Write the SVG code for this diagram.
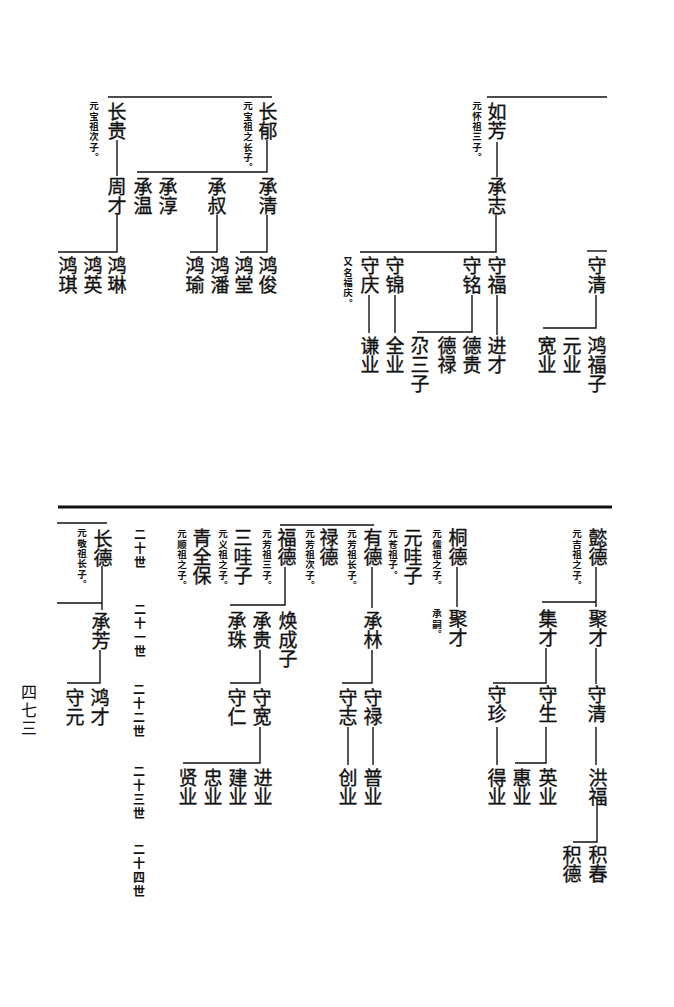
<svg xmlns="http://www.w3.org/2000/svg" width="674" height="1007" viewBox="0 0 674 1007">
<style>
text{font-family:"Noto Sans CJK SC","Noto Sans CJK TC",sans-serif;fill:#111;writing-mode:vertical-rl;text-anchor:start}
.n{font-size:19px;stroke:#111;stroke-width:0.35}
.a{font-size:9.5px;font-weight:bold;letter-spacing:0.8px}
.g{font-size:12px;letter-spacing:2px;font-weight:bold}
.p{font-size:16px;letter-spacing:2px}
.c line,.c path{stroke:#111;stroke-width:1.4;fill:none}
</style>
<rect width="674" height="1007" fill="#fff"/>
<g class="c" id="connectors">
<line x1="108" y1="97" x2="272" y2="97"/>
<path d="M267 140V172H137"/>
<path d="M117 140V176"/>
<path d="M267 215V252H240"/>
<path d="M217 215V252H190"/>
<path d="M117 215V252H58"/>
<line x1="487" y1="97" x2="607" y2="97" style="stroke-width:1.6"/>
<path d="M497 142V177"/>
<path d="M496 215V252H360"/>
<line x1="587" y1="251" x2="607" y2="251"/>
<path d="M369 295V333"/>
<path d="M395 295V333"/>
<path d="M472 295V332H417"/>
<path d="M497 295V335"/>
<path d="M596 295V328H543"/>
<line x1="58" y1="507" x2="612" y2="507" style="stroke-width:3"/>
<line x1="57" y1="523" x2="107" y2="523"/>
<path d="M102 566V610M102 603H57"/>
<path d="M100 650V683H67"/>
<line x1="280" y1="525" x2="374" y2="525"/>
<path d="M457 567V607"/>
<path d="M596 567V607M596 602H542"/>
<path d="M285 567V605H230"/>
<path d="M372 567V608"/>
<path d="M260 650V683H230"/>
<path d="M260 727V763H183"/>
<path d="M372 650V683H342"/>
<path d="M373 727V765"/>
<path d="M348 727V765"/>
<path d="M546 648V683H493"/>
<path d="M596 648V684"/>
<path d="M546 727V763H515"/>
<path d="M497 727V765"/>
<path d="M596 727V765"/>
<path d="M597 806V842H573"/>
</g>
<g id="top-left">
<g id="n-changyu"><text class="n" x="268" y="102">长郁</text><text class="a" x="248" y="101">元宝祖之长子。</text></g>
<g id="n-changgui"><text class="n" x="117" y="102">长贵</text><text class="a" x="94" y="101">元宝祖次子。</text></g>
<g id="n-chengqing"><text class="n" x="268" y="177">承清</text></g>
<g id="n-chengshu"><text class="n" x="217" y="177">承叔</text></g>
<g id="n-chengchun"><text class="n" x="168" y="177">承淳</text></g>
<g id="n-chengwen"><text class="n" x="143" y="177">承温</text></g>
<g id="n-zhoucai"><text class="n" x="117" y="177">周才</text></g>
<g id="n-hongjun"><text class="n" x="268" y="256">鸿俊</text></g>
<g id="n-hongtang"><text class="n" x="244" y="256">鸿堂</text></g>
<g id="n-hongpan"><text class="n" x="220" y="256">鸿潘</text></g>
<g id="n-hongyu"><text class="n" x="195" y="256">鸿瑜</text></g>
<g id="n-honglin"><text class="n" x="117" y="256">鸿琳</text></g>
<g id="n-hongying"><text class="n" x="93" y="256">鸿英</text></g>
<g id="n-hongqi"><text class="n" x="68" y="256">鸿琪</text></g>
</g>
<g id="top-right">
<g id="n-rufang"><text class="n" x="497" y="102">如芳</text><text class="a" x="477" y="101">元怀祖三子。</text></g>
<g id="n-chengzhi"><text class="n" x="497" y="177">承志</text></g>
<g id="n-shoufu"><text class="n" x="497" y="256">守福</text></g>
<g id="n-shouming"><text class="n" x="472" y="256">守铭</text></g>
<g id="n-shoujin"><text class="n" x="395" y="256">守锦</text></g>
<g id="n-shouqing1"><text class="n" x="370" y="256">守庆</text><text class="a" x="348" y="257">又名福庆。</text></g>
<g id="n-shouqing2"><text class="n" x="597" y="256">守清</text></g>
<g id="n-qianye"><text class="n" x="370" y="336">谦业</text></g>
<g id="n-quanye"><text class="n" x="395" y="336">全业</text></g>
<g id="n-gasanzi"><text class="n" x="420" y="336">尕三子</text></g>
<g id="n-delu"><text class="n" x="447" y="336">德禄</text></g>
<g id="n-degui"><text class="n" x="472" y="336">德贵</text></g>
<g id="n-jincai"><text class="n" x="497" y="336">进才</text></g>
<g id="n-kuanye"><text class="n" x="547" y="336">宽业</text></g>
<g id="n-yuanye"><text class="n" x="572" y="336">元业</text></g>
<g id="n-hongfuzi"><text class="n" x="597" y="336">鸿福子</text></g>
</g>
<g id="bottom">
<g id="n-changde"><text class="n" x="103" y="529">长德</text><text class="a" x="82" y="528">元敬祖长子。</text></g>
<g id="n-chengfang"><text class="n" x="101" y="612">承芳</text></g>
<g id="n-hongcai"><text class="n" x="100" y="688">鸿才</text></g>
<g id="n-shouyuan"><text class="n" x="75" y="688">守元</text></g>
<g id="n-qingquanbao"><text class="n" x="202" y="528">青全保</text><text class="a" x="182" y="529">元顺祖之子。</text></g>
<g id="n-sanwazi"><text class="n" x="243" y="528">三哇子</text><text class="a" x="223" y="529">元义祖之子。</text></g>
<g id="n-fude"><text class="n" x="287" y="528">福德</text><text class="a" x="267" y="529">元芳祖三子。</text></g>
<g id="n-lude"><text class="n" x="329" y="528">禄德</text><text class="a" x="310" y="529">元芳祖次子。</text></g>
<g id="n-youde"><text class="n" x="373" y="528">有德</text><text class="a" x="352" y="529">元芳祖长子。</text></g>
<g id="n-yuanwazi"><text class="n" x="413" y="528">元哇子</text><text class="a" x="393" y="529">元苍祖子。</text></g>
<g id="n-tongde"><text class="n" x="458" y="528">桐德</text><text class="a" x="437" y="529">元儒祖之子。</text></g>
<g id="n-jucai1"><text class="n" x="458" y="609">聚才</text><text class="a" x="437" y="609">承嗣。</text></g>
<g id="n-yide"><text class="n" x="598" y="528">懿德</text><text class="a" x="577" y="529">元吉祖之子。</text></g>
<g id="n-jucai2"><text class="n" x="598" y="609">聚才</text></g>
<g id="n-jicai"><text class="n" x="548" y="609">集才</text></g>
<g id="n-huanchengzi"><text class="n" x="288" y="611">焕成子</text></g>
<g id="n-chenggui"><text class="n" x="262" y="611">承贵</text></g>
<g id="n-chengzhu"><text class="n" x="237" y="611">承珠</text></g>
<g id="n-chenglin"><text class="n" x="373" y="611">承林</text></g>
<g id="n-shoukuan"><text class="n" x="262" y="688">守宽</text></g>
<g id="n-shouren"><text class="n" x="237" y="688">守仁</text></g>
<g id="n-shoulu"><text class="n" x="373" y="688">守禄</text></g>
<g id="n-shouzhi"><text class="n" x="348" y="688">守志</text></g>
<g id="n-shousheng"><text class="n" x="548" y="685">守生</text></g>
<g id="n-shouzhen"><text class="n" x="497" y="685">守珍</text></g>
<g id="n-shouqing3"><text class="n" x="597" y="685">守清</text></g>
<g id="n-jinye"><text class="n" x="263" y="768">进业</text></g>
<g id="n-jianye"><text class="n" x="238" y="768">建业</text></g>
<g id="n-zhongye"><text class="n" x="213" y="768">忠业</text></g>
<g id="n-xianye"><text class="n" x="188" y="768">贤业</text></g>
<g id="n-puye"><text class="n" x="373" y="768">普业</text></g>
<g id="n-chuangye"><text class="n" x="348" y="768">创业</text></g>
<g id="n-yingye"><text class="n" x="548" y="768">英业</text></g>
<g id="n-huiye"><text class="n" x="522" y="768">惠业</text></g>
<g id="n-deye"><text class="n" x="497" y="768">得业</text></g>
<g id="n-hongfu"><text class="n" x="598" y="768">洪福</text></g>
<g id="n-jichun"><text class="n" x="598" y="845">积春</text></g>
<g id="n-jide"><text class="n" x="572" y="845">积德</text></g>
</g>
<g id="generations">
<text class="g" x="140" y="528">二十世</text>
<text class="g" x="140" y="603">二十一世</text>
<text class="g" x="139" y="683">二十二世</text>
<text class="g" x="139" y="765">二十三世</text>
<text class="g" x="139" y="843">二十四世</text>
</g>
<text class="p" x="29" y="684">四七三</text>
</svg>
